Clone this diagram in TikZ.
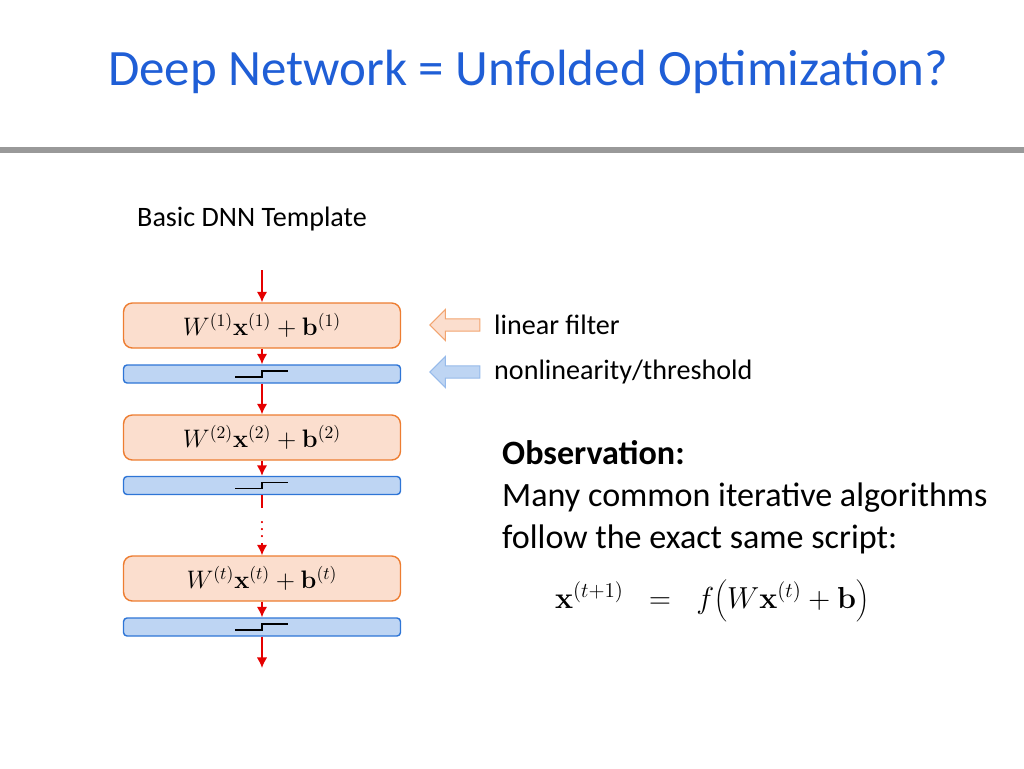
\documentclass[tikz,border=0pt]{standalone}
\usepackage[no-math]{fontspec}
\setmainfont{Carlito}
\usetikzlibrary{shapes.arrows,arrows.meta}
\definecolor{titleblue}{RGB}{31,94,214}
\definecolor{boxorange}{RGB}{251,222,206}
\definecolor{lineorange}{RGB}{237,125,49}
\definecolor{boxblue}{RGB}{190,213,243}
\definecolor{lineblue}{RGB}{46,117,214}
\tikzset{
  linbox/.style={draw=lineorange, fill=boxorange, rounded corners=5pt, line width=0.8pt,
    minimum width=5.54cm, minimum height=0.9cm, inner sep=0pt},
  nlbox/.style={draw=lineblue, fill=boxblue, rounded corners=2pt, line width=0.8pt,
    minimum width=5.54cm, minimum height=0.36cm, inner sep=0pt},
  flow/.style={red!90!black, line width=1pt, -{Latex[length=6pt,width=6pt]}},
  blockarr/.style={single arrow, shape border rotate=180, minimum height=1cm,
    minimum width=0.62cm, single arrow head extend=2pt, inner sep=1pt, line width=0.6pt}
}
\newcommand{\stepmark}[1]{\draw[line width=1pt] ([xshift=-0.54cm,yshift=-0.06cm]#1.center) -- ([yshift=-0.06cm]#1.center) -- ([yshift=0.06cm]#1.center) -- ([xshift=0.52cm,yshift=0.06cm]#1.center);}
\begin{document}
\begin{tikzpicture}[x=0.02cm,y=-0.02cm]
    \useasboundingbox (0,0) rectangle (1024,768);
    % Titel
    \node[anchor=west, text=titleblue, font=\fontsize{29}{34}\selectfont] (title) at (102,72) {Deep Network = Unfolded Optimization?};
    \fill[gray!80] (0,147) rectangle (1024,153);
    \node[anchor=west, font=\fontsize{16}{19}\selectfont] (head) at (131,219) {Basic DNN Template};

    % Schichten
    \coordinate (top) at (262,270);
    \node[linbox] (lin1) at (262,325.5) {\Large $W^{(1)}\mathbf{x}^{(1)} + \mathbf{b}^{(1)}$};
    \node[nlbox] (nl1) at (262,374) {};
    \node[linbox] (lin2) at (262,437.5) {\Large $W^{(2)}\mathbf{x}^{(2)} + \mathbf{b}^{(2)}$};
    \node[nlbox] (nl2) at (262,485.5) {};
    \node[inner sep=0pt] (dots) at (262,524) {\color{red!90!black}$\vdots$};
    \node[linbox] (lin3) at (262,578.5) {\Large $W^{(t)}\mathbf{x}^{(t)} + \mathbf{b}^{(t)}$};
    \node[nlbox] (nl3) at (262,627) {};
    \coordinate (bottom) at (262,668);

    % Pfeile
    \draw[flow] (top) -- (lin1.north);
    \draw[flow] (lin1.south) -- (nl1.north);
    \draw[flow] (nl1.south) -- (lin2.north);
    \draw[flow] (lin2.south) -- (nl2.north);
    \draw[red!90!black, line width=1pt] (nl2.south) -- (262,508);
    \draw[flow] (262,543) -- (lin3.north);
    \draw[flow] (lin3.south) -- (nl3.north);
    \draw[flow] (nl3.south) -- (bottom);
    \stepmark{nl1}
    \stepmark{nl2}
    \stepmark{nl3}

    % Legende
    \node[blockarr, draw=lineorange!70, fill=boxorange] (arrlin) at (458,325) {};
    \node[blockarr, draw=lineblue!50, fill=boxblue] (arrnl) at (458,372) {};
    \node[anchor=west, font=\fontsize{16}{19}\selectfont] (txtlin) at (488,325) {linear filter};
    \node[anchor=west, font=\fontsize{16}{19}\selectfont] (txtnl) at (488,372) {nonlinearity/threshold};

    % Beobachtung
    \node[anchor=north west, align=left, font=\fontsize{19.4}{24}\selectfont] (obs) at (496,434)
      {\textbf{Observation:}\\Many common iterative algorithms\\follow the exact same script:};
    \node[font=\LARGE] (eq) at (712,600) {$\mathbf{x}^{(t+1)} \;\;=\;\; f\Bigg(W\mathbf{x}^{(t)} + \mathbf{b}\Bigg)$};
\end{tikzpicture}
\end{document}
